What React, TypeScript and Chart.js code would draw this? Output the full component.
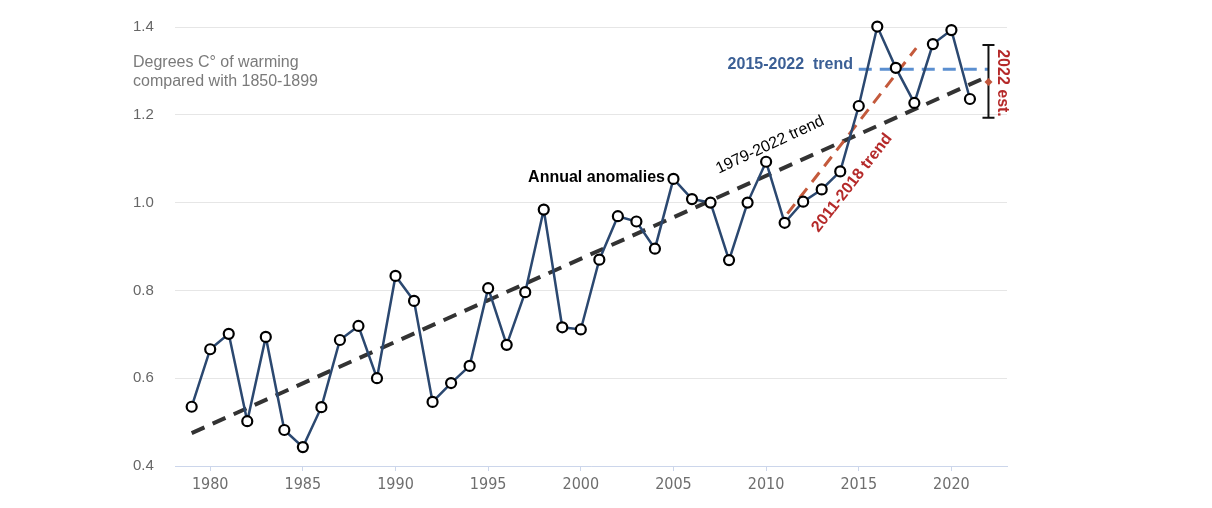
import React, { useEffect, useRef } from "react";
import { Chart, registerables } from "chart.js";

Chart.register(...registerables);

const years = [
  1979, 1980, 1981, 1982, 1983, 1984, 1985, 1986, 1987, 1988, 1989, 1990, 1991, 1992, 1993,
  1994, 1995, 1996, 1997, 1998, 1999, 2000, 2001, 2002, 2003, 2004, 2005, 2006, 2007, 2008,
  2009, 2010, 2011, 2012, 2013, 2014, 2015, 2016, 2017, 2018, 2019, 2020, 2021,
];
const anomalies = [
  0.535, 0.666, 0.701, 0.502, 0.694, 0.482, 0.443, 0.534, 0.687, 0.719, 0.6, 0.833, 0.776,
  0.546, 0.589, 0.628, 0.805, 0.676, 0.796, 0.984, 0.716, 0.711, 0.87, 0.969, 0.957, 0.895,
  1.054, 1.008, 1.0, 0.869, 1.0, 1.093, 0.954, 1.002, 1.03, 1.071, 1.22, 1.401, 1.307, 1.227,
  1.361, 1.393, 1.236,
];
const trendLong = { x: [1979, 2022], y: [0.475, 1.288] };
const trend2011 = { x: [2011.15, 2018.1], y: [0.975, 1.352] };
const trend2015 = { x: [2015, 2022], y: [1.304, 1.304] };
const est2022 = { year: 2022, low: 1.193, mid: 1.275, high: 1.359 };
const xTicks = [1980, 1985, 1990, 1995, 2000, 2005, 2010, 2015, 2020];
const yTicks = [0.4, 0.6, 0.8, 1.0, 1.2, 1.4];

const FONT = "'Liberation Sans', Arial, sans-serif";

const pts = (t: { x: number[]; y: number[] }) => t.x.map((x, i) => ({ x, y: t.y[i] }));

const annotationPlugin = {
  id: "annotations",
  afterDatasetsDraw(chart: any) {
    const ctx = chart.ctx as CanvasRenderingContext2D;
    const xs = chart.scales.x;
    const ys = chart.scales.y;
    ctx.save();
    // error bar
    const ex = xs.getPixelForValue(est2022.year);
    const eTop = ys.getPixelForValue(est2022.high);
    const eBot = ys.getPixelForValue(est2022.low);
    ctx.strokeStyle = "#111";
    ctx.lineWidth = 2;
    ctx.beginPath();
    ctx.moveTo(ex, eTop);
    ctx.lineTo(ex, eBot);
    ctx.moveTo(ex - 6, eTop);
    ctx.lineTo(ex + 6, eTop);
    ctx.moveTo(ex - 6, eBot);
    ctx.lineTo(ex + 6, eBot);
    ctx.stroke();
    const em = ys.getPixelForValue(est2022.mid);
    ctx.fillStyle = "#c0553a";
    ctx.beginPath();
    ctx.moveTo(ex, em - 4);
    ctx.lineTo(ex + 4, em);
    ctx.lineTo(ex, em + 4);
    ctx.lineTo(ex - 4, em);
    ctx.closePath();
    ctx.fill();

    const text = (
      s: string,
      x: number,
      y: number,
      font: string,
      color: string,
      align: CanvasTextAlign,
      rot = 0
    ) => {
      ctx.save();
      ctx.translate(x, y);
      ctx.rotate((rot * Math.PI) / 180);
      ctx.font = font;
      ctx.fillStyle = color;
      ctx.textAlign = align;
      ctx.textBaseline = "middle";
      ctx.fillText(s, 0, 0);
      ctx.restore();
    };
    text("Degrees C° of warming", 133, 63, `16px ${FONT}`, "#7a7a7a", "left");
    text("compared with 1850-1899", 133, 82, `16px ${FONT}`, "#7a7a7a", "left");
    text("Annual anomalies", 665, 178, `bold 16px ${FONT}`, "#000", "right");
    text("2015-2022  trend", 853, 65, `bold 16px ${FONT}`, "#3b5f95", "right");
    text("1979-2022 trend", 770, 145, `16px ${FONT}`, "#000", "center", -25);
    text("2011-2018 trend", 852, 183, `bold 16px ${FONT}`, "#b52a2a", "center", -52);
    text("2022 est.", 1002, 83, `bold 16px ${FONT}`, "#b52a2a", "center", 90);
    ctx.restore();
  },
};

export default function App() {
  const ref = useRef<HTMLCanvasElement>(null);
  useEffect(() => {
    if (!ref.current) return;
    const chart = new Chart(ref.current, {
      type: "scatter",
      data: {
        datasets: [
          {
            label: "Annual anomalies",
            data: years.map((x, i) => ({ x, y: anomalies[i] })),
            showLine: true,
            borderColor: "#2b4870",
            borderWidth: 2.5,
            pointRadius: 5,
            pointBorderWidth: 2.2,
            pointBorderColor: "#000",
            pointBackgroundColor: "#fff",
            order: 0,
            clip: false as any,
          },
          {
            label: "1979-2022 trend",
            data: pts(trendLong),
            showLine: true,
            borderColor: "#333",
            borderWidth: 4,
            borderDash: [14, 9],
            pointRadius: 0,
            order: 3,
            clip: false as any,
          },
          {
            label: "2011-2018 trend",
            data: pts(trend2011),
            showLine: true,
            borderColor: "#c45a3c",
            borderWidth: 3,
            borderDash: [12, 8],
            pointRadius: 0,
            order: 2,
            clip: false as any,
          },
          {
            label: "2015-2022 trend",
            data: pts(trend2015),
            showLine: true,
            borderColor: "#5b8fd0",
            borderWidth: 3,
            borderDash: [13, 8],
            pointRadius: 0,
            order: 1,
            clip: false as any,
          },
        ],
      },
      options: {
        animation: false,
        responsive: true,
        maintainAspectRatio: false,
        layout: { padding: { left: 133, top: 27, right: 205, bottom: 0 } },
        plugins: { legend: { display: false }, tooltip: { enabled: false } },
        scales: {
          x: {
            type: "linear",
            min: 1978.1,
            max: 2023,
            afterBuildTicks: (s: any) => {
              s.ticks = xTicks.map((v) => ({ value: v }));
            },
            afterFit: (s: any) => {
              s.height = 42;
            },
            grid: {
              drawOnChartArea: false,
              drawTicks: true,
              tickLength: 5,
              color: "#ccd6eb",
            },
            border: { display: true, color: "#ccd6eb", width: 1 },
            ticks: {
              padding: 4,
              color: "#6e6e6e",
              font: { family: "'Liberation Sans Narrow', 'DejaVu Sans Condensed', sans-serif", size: 16 },
              callback: (v: any) => String(v),
              maxRotation: 0,
            },
          },
          y: {
            min: 0.4,
            max: 1.4,
            afterBuildTicks: (s: any) => {
              s.ticks = yTicks.map((v) => ({ value: v }));
            },
            afterFit: (s: any) => {
              s.width = 42;
            },
            grid: { color: "#e6e6e6", drawTicks: false, lineWidth: 1 },
            border: { display: false },
            ticks: {
              crossAlign: "far",
              padding: 0,
              color: "#666",
              font: { family: FONT, size: 15 },
              callback: (v: any) => Number(v).toFixed(1),
            },
          },
        },
      },
      plugins: [annotationPlugin],
    });
    return () => chart.destroy();
  }, []);
  return (
    <div style={{ position: "absolute", left: 0, top: 0, width: 1212, height: 508, background: "#fff" }}>
      <canvas ref={ref} />
    </div>
  );
}
